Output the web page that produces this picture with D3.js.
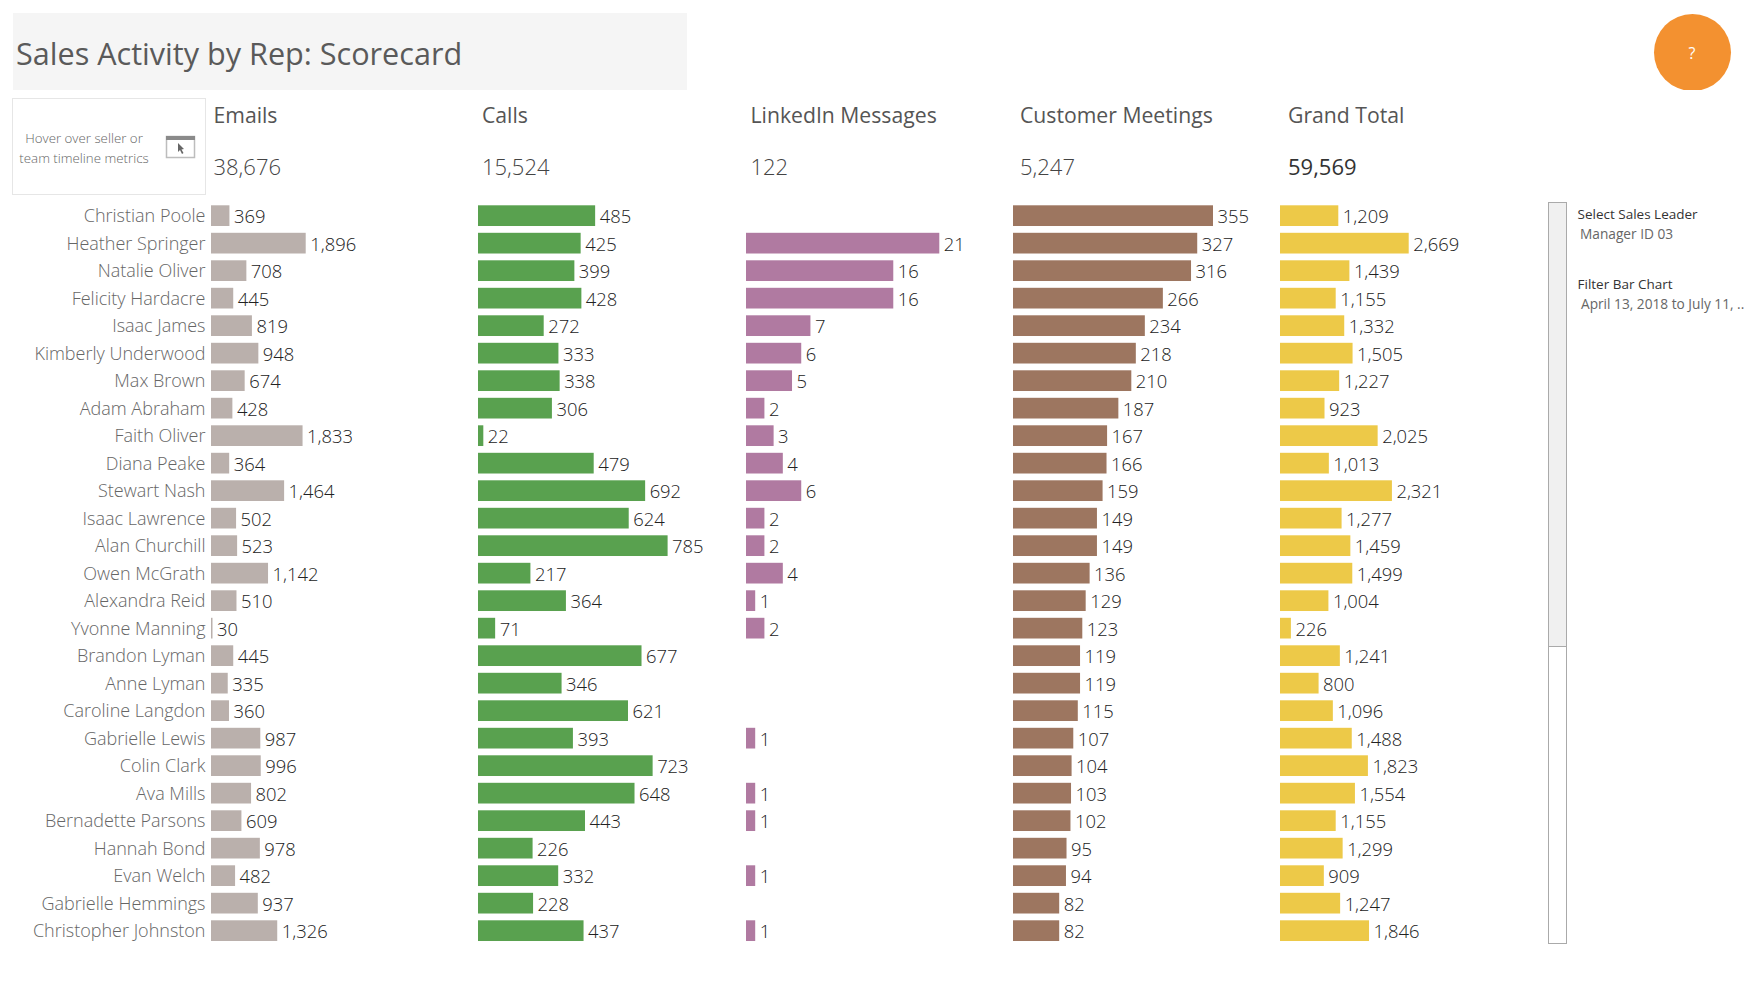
<!DOCTYPE html>
<html><head><meta charset="utf-8">
<style>html,body{margin:0;padding:0;background:#fff;overflow:hidden}svg{display:block}
text{font-family:"Open Sans",sans-serif}</style>
<script src="https://cdnjs.cloudflare.com/ajax/libs/d3/7.8.5/d3.min.js"></script>
</head><body><script>
const reps=["Christian Poole","Heather Springer","Natalie Oliver","Felicity Hardacre","Isaac James","Kimberly Underwood","Max Brown","Adam Abraham","Faith Oliver","Diana Peake","Stewart Nash","Isaac Lawrence","Alan Churchill","Owen McGrath","Alexandra Reid","Yvonne Manning","Brandon Lyman","Anne Lyman","Caroline Langdon","Gabrielle Lewis","Colin Clark","Ava Mills","Bernadette Parsons","Hannah Bond","Evan Welch","Gabrielle Hemmings","Christopher Johnston"];
const emails=[369,1896,708,445,819,948,674,428,1833,364,1464,502,523,1142,510,30,445,335,360,987,996,802,609,978,482,937,1326];
const calls=[485,425,399,428,272,333,338,306,22,479,692,624,785,217,364,71,677,346,621,393,723,648,443,226,332,228,437];
const linkedin=[null,21,16,16,7,6,5,2,3,4,6,2,2,4,1,2,null,null,null,1,null,1,1,null,1,null,1];
const meetings=[355,327,316,266,234,218,210,187,167,166,159,149,149,136,129,123,119,119,115,107,104,103,102,95,94,82,82];
const grandTotal=[1209,2669,1439,1155,1332,1505,1227,923,2025,1013,2321,1277,1459,1499,1004,226,1241,800,1096,1488,1823,1554,1155,1299,909,1247,1846];
const headers=["Emails","Calls","LinkedIn Messages","Customer Meetings","Grand Total"];
const totals=[38676,15524,122,5247,59569];
const series=[emails,calls,linkedin,meetings,grandTotal];
const colors=["#bab0ac","#59a14f","#b07aa1","#9d7660","#edc948"];
const barX=[211,478,746,1013,1280];
const barW=[94.7,189.6,193.3,200,128.7];
const headX=[213.5,482,750.5,1020,1288];

const FONT='"Open Sans",sans-serif';
const fmt=d3.format(",");
const svg=d3.select("body").append("svg").attr("width",1759).attr("height",989);

// title band
svg.append("rect").attr("x",13).attr("y",13).attr("width",674).attr("height",77).attr("fill","#f5f5f5");
svg.append("text").attr("x",16).attr("y",54).attr("dy",".35em").attr("font-size",30.6).attr("fill","#5a5a5a").text("Sales Activity by Rep: Scorecard");

// hover note
svg.append("rect").attr("x",12.5).attr("y",98.5).attr("width",193).attr("height",96).attr("fill","#fff").attr("stroke","#e6e6e6");
[["Hover over seller or",138],["team timeline metrics",158]].forEach(([t,y])=>{
  svg.append("text").attr("x",84).attr("y",y).attr("dy",".35em").attr("text-anchor","middle").attr("font-size",13.3).attr("font-weight",300).attr("fill","#666").text(t);
});
const ic=svg.append("g").attr("transform","translate(166,136)");
ic.append("rect").attr("x",.5).attr("y",.5).attr("width",28).attr("height",21).attr("fill","#fff").attr("stroke","#bdbdbd").attr("stroke-width",1.5);
ic.append("rect").attr("x",0).attr("y",0).attr("width",29).attr("height",4).attr("fill","#8a8a8a");
ic.append("path").attr("d","M12 7 L12 16 L14 14 L16 18 L17.5 17 L15.5 13.5 L18 13 Z").attr("fill","#666");

// help circle, clipped at the bottom
svg.append("clipPath").attr("id","helpClip").append("rect").attr("x",1640).attr("y",0).attr("width",110).attr("height",90);
svg.append("circle").attr("cx",1692.5).attr("cy",52.5).attr("r",38.5).attr("fill","#f39130").attr("clip-path","url(#helpClip)");
svg.append("text").attr("x",1692).attr("y",53).attr("dy",".35em").attr("text-anchor","middle").attr("font-size",16).attr("fill","#fff").text("?");

// headers and totals
headers.forEach((h,i)=>{
  svg.append("text").attr("x",headX[i]).attr("y",116).attr("dy",".35em").attr("font-size",21.2).attr("fill","#555").text(h);
  svg.append("text").attr("x",headX[i]).attr("y",167).attr("dy",".35em").attr("font-size",22).attr("font-weight",i===4?400:300).attr("fill",i===4?"#333":"#444").text(fmt(totals[i]));
});

// rows
const step=27.5, pad=0.247;
const y=d3.scaleBand().domain(reps).range([205.3-step*pad/2,205.3-step*pad/2+step*reps.length]).paddingInner(pad).paddingOuter(pad/2);
const yAxis=d3.axisLeft(y).tickSize(0).tickPadding(0);
const ag=svg.append("g").attr("transform","translate(205.5,1)").call(yAxis);
ag.select(".domain").remove();
ag.selectAll("text").attr("font-family",FONT).attr("font-size",18).attr("font-weight",300).attr("fill","#666");

series.forEach((vals,i)=>{
  const x=d3.scaleLinear().domain([0,d3.max(vals)]).range([0,barW[i]]);
  const g=svg.append("g").attr("transform",`translate(${barX[i]},0)`);
  const rows=reps.map((r,k)=>({r,v:vals[k]})).filter(d=>d.v!==null);
  g.selectAll("rect").data(rows).join("rect")
    .attr("x",0).attr("y",d=>y(d.r)).attr("height",y.bandwidth()).attr("width",d=>x(d.v)).attr("fill",colors[i]);
  g.selectAll("text").data(rows).join("text")
    .attr("x",d=>x(d.v)+4.5).attr("y",d=>y(d.r)+y.bandwidth()/2+1).attr("dy",".35em")
    .attr("font-size",18.4).attr("font-weight",300).attr("fill","#222").text(d=>fmt(d.v));
});

// scrollbar
svg.append("rect").attr("x",1548.5).attr("y",202.5).attr("width",18).attr("height",741).attr("fill","#fff").attr("stroke","#aaa");
svg.append("rect").attr("x",1548.5).attr("y",202.5).attr("width",18).attr("height",444).attr("fill","#f0f0f0").attr("stroke","#aaa");

// filters
[["Select Sales Leader",1577.5,214.5,13.5,"#333"],["Manager ID 03",1580,234.5,13.7,"#666"],["Filter Bar Chart",1577.5,284.5,13.5,"#333"],["April 13, 2018 to July 11, ..",1581,304.5,13.7,"#666"]].forEach(([t,xx,yy,s,c])=>{
  svg.append("text").attr("x",xx).attr("y",yy).attr("dy",".35em").attr("font-size",s).attr("fill",c).text(t);
});
</script></body></html>
